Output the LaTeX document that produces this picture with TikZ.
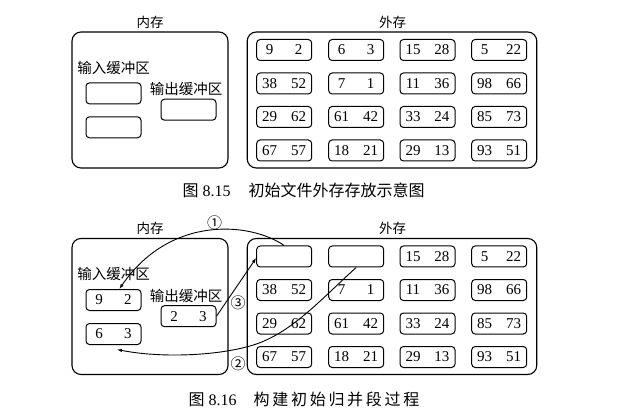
\documentclass[tikz,border=0pt]{standalone}
\usepackage{fontspec}
\setmainfont{Liberation Serif}
\newfontfamily\cjk{Noto Sans CJK SC}
\usetikzlibrary{arrows.meta}
\newcommand\pr[2]{\makebox[44pt]{\makebox[15pt]{#1}\hfill\makebox[15pt]{#2}}}
\begin{document}
\begin{tikzpicture}[x=1pt,y=-1pt,
 bigbox/.style={draw, rounded corners=9pt, line width=1.1pt, inner sep=0pt},
 cellbox/.style={draw, rounded corners=3.5pt, line width=1pt, minimum width=55pt, minimum height=21pt, inner xsep=5.5pt, inner ysep=0pt, font=\fontsize{15}{15}\selectfont},
 lbl/.style={inner sep=0pt, font=\fontsize{14.5}{15}\selectfont\cjk},
 ttl/.style={inner sep=0pt, font=\fontsize{13.5}{14}\selectfont\cjk},
 circ/.style={inner sep=0pt, font=\fontsize{15}{15}\selectfont\cjk},
 captxt/.style={inner sep=0pt, font=\fontsize{16}{16}\selectfont},
 conn/.style={line width=0.9pt, -{Latex[length=5pt,width=3.5pt]}},
]
\useasboundingbox (0,0) rectangle (624,414);

% ---------- Figure 8.15 ----------
\node[ttl] (memlbl1) at (150,22.5) {内存};
\node[ttl] (extlbl1) at (392.5,22.5) {外存};
\node[bigbox, minimum width=156pt, minimum height=136pt] (mem1) at (150,100) {};
\node[bigbox, minimum width=289.5pt, minimum height=136pt] (ext1) at (392,100) {};
\node[lbl] (inlbl1) at (113.5,67.5) {输入缓冲区};
\node[cellbox] (in1a) at (113.5,93.4) {};
\node[cellbox] (in1b) at (113.5,127.3) {};
\node[lbl] (outlbl1) at (186,89.3) {输出缓冲区};
\node[cellbox] (out1) at (188.5,109.7) {};
\foreach \r/\c/\p/\q in {1/1/9/2,1/2/6/3,1/3/15/28,1/4/5/22,
  2/1/38/52,2/2/7/1,2/3/11/36,2/4/98/66,
  3/1/29/62,3/2/61/42,3/3/33/24,3/4/85/73,
  4/1/67/57,4/2/18/21,4/3/29/13,4/4/93/51}{
  \pgfmathsetmacro\cx{{284.2,356.2,427.5,499.2}[\c-1]}
  \pgfmathsetmacro\cy{{50,83.5,117,150.5}[\r-1]}
  \node[cellbox] (ta\r\c) at (\cx,\cy) {\pr{\p}{\q}};
}
\node[captxt] (cap1) at (303.5,190) {{\cjk 图}\hspace{4pt}8.15\hspace{18pt}{\cjk 初始文件外存存放示意图}};

% ---------- Figure 8.16 ----------
\node[ttl] (memlbl2) at (150,228.5) {内存};
\node[ttl] (extlbl2) at (392.5,228.5) {外存};
\node[bigbox, minimum width=156pt, minimum height=136pt] (mem2) at (150,306.5) {};
\node[bigbox, minimum width=289.5pt, minimum height=136pt] (ext2) at (392,306.5) {};
\node[lbl] (inlbl2) at (113.5,274) {输入缓冲区};
\node[cellbox] (in2a) at (113.5,300) {\pr{9}{2}};
\node[cellbox] (in2b) at (113.5,334) {\pr{6}{3}};
\node[lbl] (outlbl2) at (186,296) {输出缓冲区};
\node[cellbox] (out2) at (188.5,316.2) {\pr{2}{3}};
\node[cellbox] (tb11) at (284.2,256.5) {};
\node[cellbox] (tb12) at (356.2,256.5) {};
\foreach \r/\c/\p/\q in {1/3/15/28,1/4/5/22,
  2/1/38/52,2/2/7/1,2/3/11/36,2/4/98/66,
  3/1/29/62,3/2/61/42,3/3/33/24,3/4/85/73,
  4/1/67/57,4/2/18/21,4/3/29/13,4/4/93/51}{
  \pgfmathsetmacro\cx{{284.2,356.2,427.5,499.2}[\c-1]}
  \pgfmathsetmacro\cy{{256.5,290,323.5,357}[\r-1]}
  \node[cellbox] (tb\r\c) at (\cx,\cy) {\pr{\p}{\q}};
}
\node[circ] (n1) at (214.5,222.5) {①};
\node[circ] (n3) at (238,303) {③};
\node[circ] (n2) at (238,363.5) {②};

\draw[conn] (tb11.north) .. controls (250,222) and (170,215) .. (in2a.62);
\draw[conn] (tb12.south) .. controls (320,300) and (290,335) .. (250,346)
  .. controls (215,356) and (160,358) .. ([xshift=3.5pt,yshift=-4.5pt]in2b.south);
\draw[conn] (out2.east) -- ([yshift=-1.5pt]tb11.west);

\node[captxt] (cap2) at (304,399.5) {{\cjk 图}\hspace{4pt}8.16\hspace{17pt}{\cjk 构\kern2.7pt 建\kern2.7pt 初\kern2.7pt 始\kern2.7pt 归\kern2.7pt 并\kern2.7pt 段\kern2.7pt 过\kern2.7pt 程}};
\end{tikzpicture}
\end{document}
